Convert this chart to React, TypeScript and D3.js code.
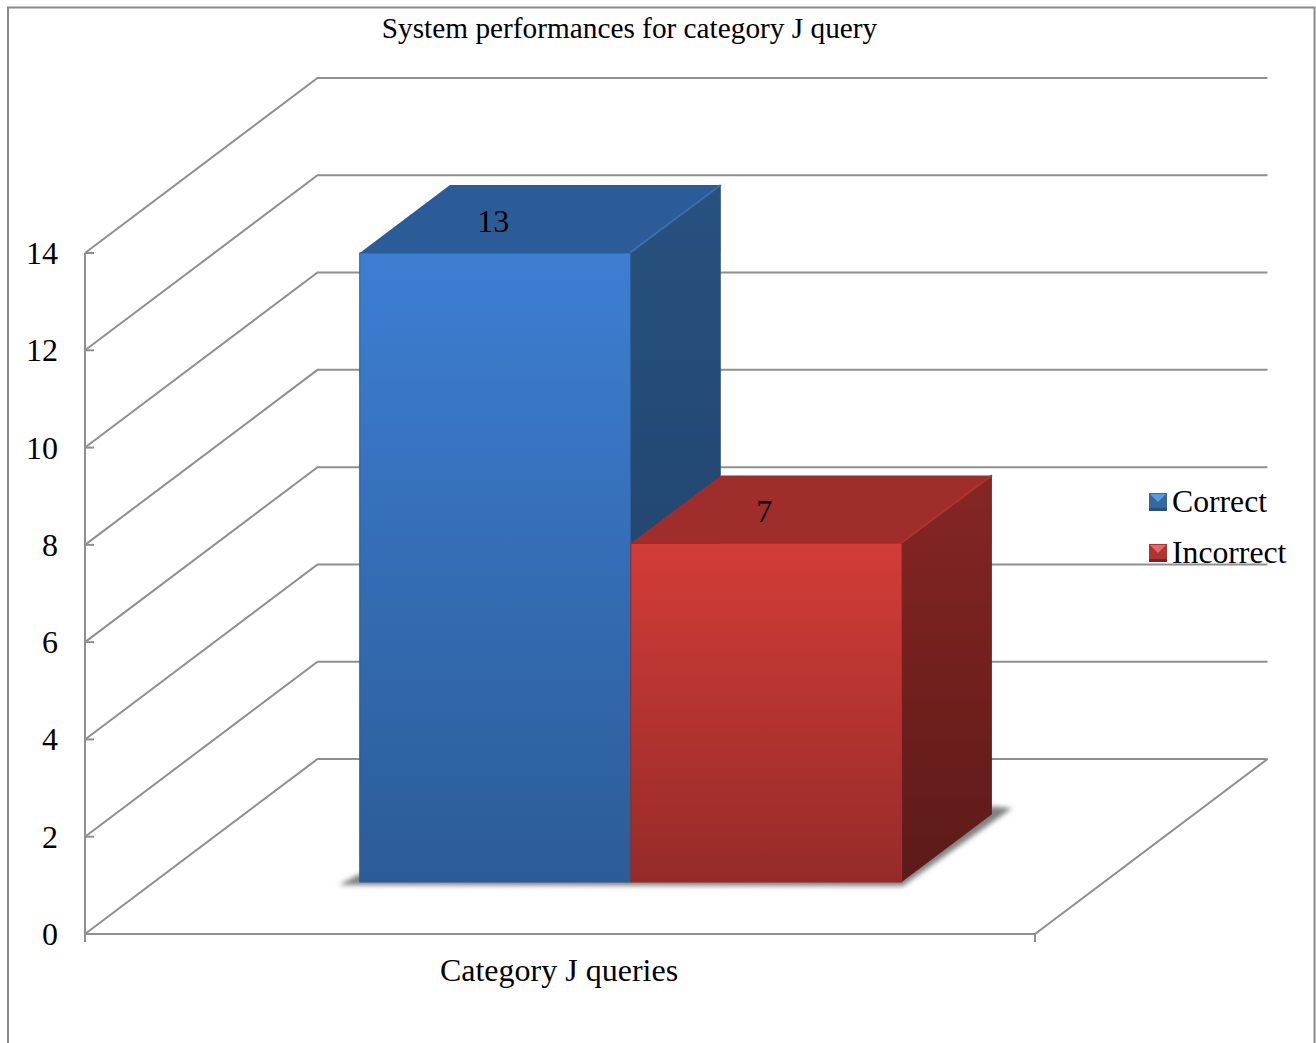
import React from "react";
import * as d3 from "d3";

const TITLE = "System performances for category J query";
const CATEGORY = "Category J queries";
const SERIES = ["Correct", "Incorrect"];
const VALUES = [13, 7];
const TICKS = [0, 2, 4, 6, 8, 10, 12, 14];

const FONT = "'Liberation Serif', 'Times New Roman', serif";
const GRID = "#8f8f8f";

const PALETTE = [
  { frontTop: "#3d7ed3", frontBottom: "#2c5c97", top: "#2c5c97", sideTop: "#27517f", sideBottom: "#1d3f66", edge: "#3a6ea8", light: "#5b9be0", swatch: "#36689f", swatchDark: "#2a4f7c" },
  { frontTop: "#d33c37", frontBottom: "#952b29", top: "#9e2d2b", sideTop: "#862623", sideBottom: "#5c1a18", edge: "#ab322e", light: "#e46a64", swatch: "#b03532", swatchDark: "#7d2422" },
];

// Oblique projection: x across the floor, v up the wall, z into the depth (0 front, 1 back).
const xFloor = d3.scaleLinear().domain([0, 1]).range([85, 1035]);
const yValue = d3.scaleLinear().domain([0, 14]).range([934, 253]);
const zDx = d3.scaleLinear().domain([0, 1]).range([0, 232.5]);
const zDy = d3.scaleLinear().domain([0, 1]).range([0, -175]);
const project = (x: number, v: number, z: number): [number, number] => [
  xFloor(x) + zDx(z),
  yValue(v) + zDy(z),
];

const barZ = { front: 0.297, back: 0.685 };
const barX = d3.scaleBand<string>().domain(SERIES).range([0.2165, 0.787]).paddingInner(0.001);
const barHeight = d3.scaleLinear().domain([0, 14]).range([0, 677.5]);

const poly = (pts: [number, number][]) => (d3.line()(pts) ?? "") + "Z";

function Swatch({ x, y, i }: { x: number; y: number; i: number }) {
  const c = PALETTE[i];
  const s = 18;
  return (
    <g transform={`translate(${x},${y})`} filter="url(#soften)">
      <rect width={s} height={s} fill={c.swatch} />
      <path d={poly([[1, 1], [s - 1, 1], [s / 2, 9]])} fill={c.light} />
      <path d={poly([[0, s - 3], [s, s - 3], [s, s], [0, s]])} fill={c.swatchDark} />
    </g>
  );
}

export default function App() {
  const baseFront = project(0, 0, barZ.front)[1];

  // Floor shadow cast behind and beside the row of bars.
  const xMin = barX(SERIES[0])!;
  const xMax = barX(SERIES[SERIES.length - 1])! + barX.bandwidth();
  const fr = project(xMax, 0, barZ.front);
  const bk = project(xMax, 0, barZ.back);
  const fl = project(xMin, 0, barZ.front);

  return (
    <svg
      width={1316}
      height={1043}
      style={{ position: "absolute", left: 0, top: 0, background: "#fff" }}
      fontFamily={FONT}
      fill="#000"
    >
      <defs>
        <filter id="floorShadow" x="-10%" y="-20%" width="120%" height="140%">
          <feGaussianBlur stdDeviation="2.5" />
        </filter>
        <filter id="soften" x="-10%" y="-10%" width="120%" height="120%">
          <feGaussianBlur stdDeviation="0.6" />
        </filter>
        {PALETTE.map((c, i) => (
          <React.Fragment key={i}>
            <linearGradient id={`front${i}`} x1="0" y1="0" x2="0" y2="1">
              <stop offset="0" stopColor={c.frontTop} />
              <stop offset="1" stopColor={c.frontBottom} />
            </linearGradient>
            <linearGradient id={`side${i}`} x1="0" y1="0" x2="0" y2="1">
              <stop offset="0" stopColor={c.sideTop} />
              <stop offset="1" stopColor={c.sideBottom} />
            </linearGradient>
          </React.Fragment>
        ))}
      </defs>

      {/* outer frame, open at the bottom */}
      <path d="M8,1043V7.5H1314.5V1043" fill="none" stroke="#8a8a8a" strokeWidth={2} />

      <text x={629.5} y={38} textAnchor="middle" fontSize={29.3}>{TITLE}</text>

      {/* walls and floor */}
      <g fill="none" stroke={GRID} strokeWidth={2}>
        {TICKS.map((t) => {
          const a = project(0, t, 0);
          const b = project(0, t, 1);
          const c = project(1, t, 1);
          return (
            <g key={t}>
              <path d={d3.line()([a, b, c]) ?? ""} />
              <path d={`M${a[0]},${a[1]}h9`} />
            </g>
          );
        })}
        <path d={d3.line()([project(0, 14, 0), project(0, 0, 0), project(1, 0, 0), project(1, 0, 1)]) ?? ""} />
        <path d={`M${xFloor(0)},${yValue(0)}v8`} />
        <path d={`M${xFloor(1)},${yValue(0)}v8`} />
      </g>

      {TICKS.map((t) => (
        <text key={t} x={58} y={yValue(t) + 11} textAnchor="end" fontSize={32}>{t}</text>
      ))}

      <path
        d={poly([
          [fl[0] - 21, fl[1] + 3],
          [fr[0] + 1, fr[1] + 4],
          [bk[0] + 20, bk[1] - 6],
          [bk[0], bk[1] - 8],
          [fr[0], fr[1] - 6],
          [fl[0], fl[1] - 8],
        ])}
        fill="#808080"
        filter="url(#floorShadow)"
      />

      {/* bars, back to front in series order */}
      {SERIES.map((name, i) => {
        const x0 = barX(name)!;
        const x1 = x0 + barX.bandwidth();
        const c = PALETTE[i];
        const flt = project(x0, 0, barZ.front);
        const frt = project(x1, 0, barZ.front);
        const brt = project(x1, 0, barZ.back);
        const top = baseFront - barHeight(VALUES[i]);
        const backTop = top + zDy(barZ.back - barZ.front);
        const dx = zDx(barZ.back - barZ.front);
        return (
          <g key={name}>
            <path
              d={poly([[frt[0], top], [frt[0] + dx, backTop], [brt[0], brt[1]], [frt[0], frt[1]]])}
              fill={`url(#side${i})`}
            />
            <path
              d={poly([[flt[0], top], [flt[0] + dx, backTop], [frt[0] + dx, backTop], [frt[0], top]])}
              fill={c.top}
            />
            <path
              d={d3.line()([[frt[0] - 1, top], [frt[0] + dx, backTop]]) ?? ""}
              stroke={c.edge}
              strokeWidth={2}
              fill="none"
              filter="url(#soften)"
            />
            <rect
              x={flt[0]}
              y={top}
              width={frt[0] - flt[0]}
              height={baseFront - top}
              fill={`url(#front${i})`}
              stroke={c.frontBottom}
              strokeWidth={1}
            />
            <path
              d={`M${flt[0] + 1},${top + 1}H${frt[0] - 1}`}
              stroke={c.edge}
              strokeWidth={2}
              fill="none"
              filter="url(#soften)"
            />
          </g>
        );
      })}

      {SERIES.map((name, i) => {
        const cx = barX(name)! + barX.bandwidth() / 2;
        const [px] = project(cx, 0, barZ.front);
        const top = baseFront - barHeight(VALUES[i]);
        return (
          <text key={name} x={px - 2} y={top - 21} textAnchor="middle" fontSize={32}>{VALUES[i]}</text>
        );
      })}

      <text x={559} y={981} textAnchor="middle" fontSize={32}>{CATEGORY}</text>

      {/* legend */}
      {SERIES.map((name, i) => {
        const rowY = 493 + i * 51;
        return (
          <g key={name}>
            <Swatch x={1149} y={rowY} i={i} />
            <text x={1172} y={rowY + 19} fontSize={31.7}>{name}</text>
          </g>
        );
      })}
    </svg>
  );
}
